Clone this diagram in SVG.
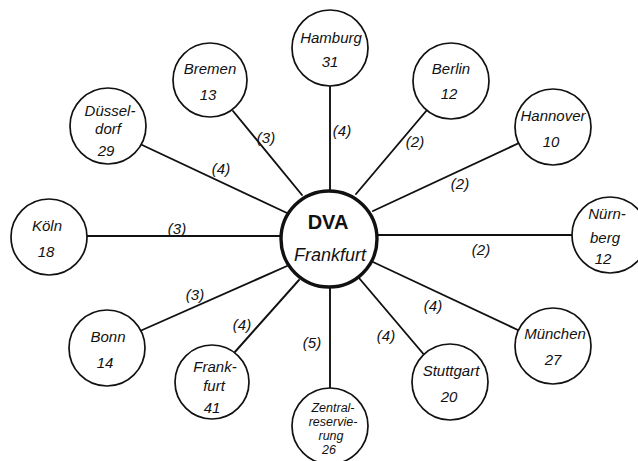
<svg xmlns="http://www.w3.org/2000/svg" width="638" height="461" viewBox="0 0 638 461">
<style>
.bg{fill:#ffffff}
.edge{stroke:#111;stroke-width:1.9;fill:none;stroke-linecap:round}
.node{fill:#fff;stroke:#111;stroke-width:1.7}
.hub{fill:#fff;stroke:#111;stroke-width:3.4}
text{font-family:"Liberation Sans","DejaVu Sans",sans-serif;fill:#111;text-anchor:middle}
.t{font-size:15px;font-style:italic}
.ts{font-size:12.5px;font-style:italic}
.el{font-size:15px;font-style:italic}
.dva{font-size:20px;font-weight:bold}
.hf{font-size:18px;font-style:italic}
</style>
<rect class="bg" x="0" y="0" width="638" height="461"/>
<g id="connectors">
<line class="edge" x1="140" y1="144" x2="287" y2="213"/>
<line class="edge" x1="233" y1="111" x2="302" y2="195"/>
<line class="edge" x1="330" y1="85" x2="330" y2="192"/>
<line class="edge" x1="427" y1="110" x2="356" y2="194"/>
<line class="edge" x1="519" y1="143" x2="373" y2="211"/>
<line class="edge" x1="378" y1="235" x2="574" y2="235"/>
<line class="edge" x1="373" y1="262" x2="520" y2="331"/>
<line class="edge" x1="359" y1="278" x2="426" y2="357"/>
<line class="edge" x1="330" y1="286" x2="330" y2="390"/>
<line class="edge" x1="299" y1="280" x2="234" y2="353"/>
<line class="edge" x1="287" y1="266" x2="140" y2="331"/>
<line class="edge" x1="85" y1="236" x2="282" y2="236"/>
<text class="el" x="266" y="143">(3)</text>
<text class="el" x="342" y="136">(4)</text>
<text class="el" x="415" y="147">(2)</text>
<text class="el" x="460" y="189">(2)</text>
<text class="el" x="221" y="174">(4)</text>
<text class="el" x="177" y="234">(3)</text>
<text class="el" x="481" y="255">(2)</text>
<text class="el" x="195" y="300">(3)</text>
<text class="el" x="242" y="330">(4)</text>
<text class="el" x="312" y="348">(5)</text>
<text class="el" x="433" y="311">(4)</text>
<text class="el" x="386" y="341">(4)</text>
</g>
<g id="dva">
<circle class="hub" cx="329" cy="239" r="48"/>
<text class="dva" x="328" y="229">DVA</text>
<text class="hf" x="330" y="261">Frankfurt</text>
</g>
<g id="hamburg">
<circle class="node" cx="330" cy="48" r="38"/>
<text class="t" x="331" y="43">Hamburg</text>
<text class="t" x="330" y="67">31</text>
</g>
<g id="bremen">
<circle class="node" cx="210" cy="80" r="37"/>
<text class="t" x="210" y="74">Bremen</text>
<text class="t" x="208" y="100">13</text>
</g>
<g id="duesseldorf">
<circle class="node" cx="108" cy="126" r="38"/>
<text class="t" x="110" y="116">Düssel-</text>
<text class="t" x="108" y="134">dorf</text>
<text class="t" x="106" y="156">29</text>
</g>
<g id="koeln">
<circle class="node" cx="49" cy="237" r="38"/>
<text class="t" x="47" y="231">Köln</text>
<text class="t" x="46" y="257">18</text>
</g>
<g id="bonn">
<circle class="node" cx="107" cy="348" r="38"/>
<text class="t" x="108" y="342">Bonn</text>
<text class="t" x="105" y="368">14</text>
</g>
<g id="frankfurt">
<circle class="node" cx="212" cy="382" r="37"/>
<text class="t" x="215" y="372">Frank-</text>
<text class="t" x="214" y="391">furt</text>
<text class="t" x="212" y="413">41</text>
</g>
<g id="zentralreservierung">
<circle class="node" cx="330" cy="426" r="38"/>
<text class="ts" x="333" y="412">Zentral-</text>
<text class="ts" x="333" y="426">reservie-</text>
<text class="ts" x="331" y="440">rung</text>
<text class="ts" x="329" y="454">26</text>
</g>
<g id="stuttgart">
<circle class="node" cx="450" cy="382" r="38"/>
<text class="t" x="451" y="376">Stuttgart</text>
<text class="t" x="449" y="402">20</text>
</g>
<g id="muenchen">
<circle class="node" cx="553" cy="346" r="38"/>
<text class="t" x="555" y="339">München</text>
<text class="t" x="553" y="365">27</text>
</g>
<g id="nuernberg">
<circle class="node" cx="610" cy="235" r="38"/>
<text class="t" x="607" y="219">Nürn-</text>
<text class="t" x="605" y="243">berg</text>
<text class="t" x="603" y="264">12</text>
</g>
<g id="hannover">
<circle class="node" cx="553" cy="127" r="38"/>
<text class="t" x="553" y="121">Hannover</text>
<text class="t" x="551" y="147">10</text>
</g>
<g id="berlin">
<circle class="node" cx="451" cy="81" r="38"/>
<text class="t" x="451" y="74">Berlin</text>
<text class="t" x="449" y="99">12</text>
</g>
</svg>
